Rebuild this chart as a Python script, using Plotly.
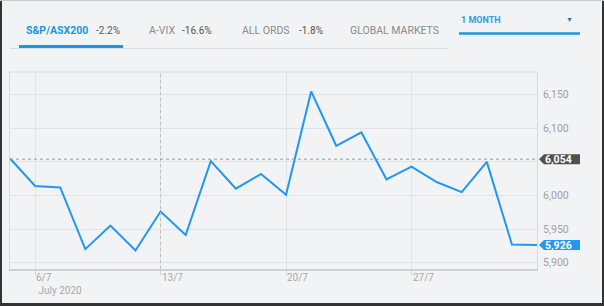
import plotly.graph_objects as go

# ---- data ----
dates = ["3/7", "6/7", "7/7", "8/7", "9/7", "10/7", "13/7", "14/7", "15/7", "16/7", "17/7",
         "20/7", "21/7", "22/7", "23/7", "24/7", "27/7", "28/7", "29/7", "30/7", "31/7", "3/8"]
values = [6055, 6014, 6012, 5920, 5955, 5918, 5976, 5941, 6051, 6010, 6032,
          6001, 6155, 6074, 6094, 6024, 6043, 6020, 6005, 6050, 5927, 5926]
x_tick_dates = ["6/7", "13/7", "20/7", "27/7"]
y_ticks = [5900, 5950, 6000, 6050, 6100, 6150]
y_tick_text = ["5,900", "5,950", "6,000", "", "6,100", "6,150"]
ref_value = 6054
last_value = 5926
tabs = [("S&P/ASX200", "-2.2%"), ("A-VIX", "-16.6%"), ("ALL ORDS", "-1.8%"), ("GLOBAL MARKETS", "")]
period = "1 MONTH"
month_label = "July 2020"

# ---- geometry ----
FW, FH = 604, 306
L, R, T, B = 10, 67, 72, 37
PW, PH = FW - L - R, FH - T - B


def px(xp):
    return (xp - L) / PW


def py(yp):
    return (FH - B - yp) / PH


BG = "#f2f3f5"
BLUE = "#2196f3"
FONT = "Roboto"
idx = list(range(len(dates)))

fig = go.Figure()
fig.add_trace(go.Scatter(x=idx, y=values, mode="lines",
                         line=dict(color=BLUE, width=2), hoverinfo="skip"))

tick_idx = [dates.index(d) for d in x_tick_dates]

fig.update_layout(
    width=FW, height=FH,
    margin=dict(l=L, r=R, t=T, b=B),
    paper_bgcolor=BG, plot_bgcolor=BG,
    showlegend=False,
    font=dict(family=FONT, color="#999999", size=11),
    xaxis=dict(range=[0, len(dates) - 1], tickvals=tick_idx, showticklabels=False,
               showgrid=True, gridcolor="#e2e3e5", gridwidth=1,
               ticks="outside", ticklen=4, tickcolor="#cfd0d2",
               showline=True, linecolor="#cfd0d2", linewidth=2, mirror=False,
               zeroline=False, fixedrange=True),
    yaxis=dict(range=[5890.4, 6183.9], side="right", tickvals=y_ticks, ticktext=y_tick_text,
               showgrid=True, gridcolor="#e2e3e5", gridwidth=1,
               ticks="outside", ticklen=3, tickcolor="rgba(0,0,0,0)",
               showline=True, linecolor="#d8d9db", linewidth=1, mirror=True,
               zeroline=False, tickfont=dict(size=10.5, color="#a0a0a0"), fixedrange=True),
)

shapes = []
# top frame line
shapes.append(dict(type="line", xref="paper", yref="paper", x0=0, x1=1, y0=1, y1=1,
                   line=dict(color="#d8d9db", width=1)))
# dotted crosshair at 13/7
shapes.append(dict(type="line", xref="x", yref="paper", x0=dates.index("13/7"), x1=dates.index("13/7"),
                   y0=0, y1=1, line=dict(color="#bdbdbd", width=1, dash="dot")))
# reference dotted line
shapes.append(dict(type="line", xref="paper", yref="y", x0=0, x1=1, y0=ref_value, y1=ref_value,
                   line=dict(color="#9a9a9a", width=1, dash="dot")))
# badges
for val, col in [(ref_value, "#505050"), (last_value, BLUE)]:
    shapes.append(dict(type="path", xref="paper", yref="y", xsizemode="pixel", ysizemode="pixel",
                       xanchor=1, yanchor=val,
                       path="M 2,0 L 7,5 L 43,5 L 43,-5 L 7,-5 Z",
                       fillcolor=col, line=dict(width=0)))

# header lines
shapes.append(dict(type="line", xref="paper", yref="paper", x0=px(10), x1=px(449), y0=py(48.5), y1=py(48.5),
                   line=dict(color="#dcdddf", width=1)))
shapes.append(dict(type="line", xref="paper", yref="paper", x0=px(19), x1=px(123), y0=py(46.5), y1=py(46.5),
                   line=dict(color="#1a97e0", width=3)))
shapes.append(dict(type="line", xref="paper", yref="paper", x0=px(459), x1=px(580), y0=py(33.5), y1=py(33.5),
                   line=dict(color="#1a97e0", width=2.5)))
# outer frame
shapes.append(dict(type="rect", xref="paper", yref="paper", x0=px(0), x1=px(2), y0=py(306), y1=py(0),
                   fillcolor="#333333", line=dict(width=0)))
shapes.append(dict(type="rect", xref="paper", yref="paper", x0=px(602), x1=px(604), y0=py(306), y1=py(0),
                   fillcolor="#333333", line=dict(width=0)))
shapes.append(dict(type="rect", xref="paper", yref="paper", x0=px(0), x1=px(604), y0=py(306), y1=py(303),
                   fillcolor="#333333", line=dict(width=0)))
shapes.append(dict(type="rect", xref="paper", yref="paper", x0=px(0), x1=px(604), y0=py(1), y1=py(0),
                   fillcolor="#c8c8c8", line=dict(width=0)))
fig.update_layout(shapes=shapes)

ann = []
# badge texts
for val in [ref_value, last_value]:
    ann.append(dict(x=1, y=val, xref="paper", yref="y", text=f"<b>{val:,}</b>", showarrow=False,
                    xanchor="left", yanchor="middle", xshift=6,
                    font=dict(family=FONT, size=10.5, color="white")))
# x labels (first one carries the month on a second line)
for n, (d, i) in enumerate(zip(x_tick_dates, tick_idx)):
    txt = d + "<br>\u00a0" + month_label if n == 0 else d
    ann.append(dict(x=i, y=py(270), xref="x", yref="paper", text=txt, showarrow=False,
                    xanchor="left", yanchor="top", xshift=-1, align="left",
                    font=dict(family=FONT, size=10, color="#a8a8a8")))
# header tabs
tab_x = [(24, 94), (147, 180), (240, 297), (348, None)]
for (name, chg), (xn, xc) in zip(tabs, tab_x):
    active = name == "S&P/ASX200"
    ann.append(dict(x=px(xn), y=py(31), xref="paper", yref="paper", text=(f"<b>{name}</b>" if active else name),
                    showarrow=False, xanchor="left", yanchor="middle",
                    font=dict(family=FONT, size=10.5, color=("#1a97e0" if active else "#8a8a8a"))))
    if chg:
        ann.append(dict(x=px(xc), y=py(31), xref="paper", yref="paper", text=chg, showarrow=False,
                        xanchor="left", yanchor="middle",
                        font=dict(family=FONT, size=10, color="#555555")))
ann.append(dict(x=px(459), y=py(20), xref="paper", yref="paper", text=f"<b>{period}</b>", showarrow=False,
                xanchor="left", yanchor="middle", font=dict(family=FONT, size=9, color="#2a9ee0")))
ann.append(dict(x=px(569), y=py(20), xref="paper", yref="paper", text="▼", showarrow=False,
                xanchor="center", yanchor="middle", font=dict(family=FONT, size=7, color="#1a7fc0")))
fig.update_layout(annotations=ann)

fig.write_html("out.html", config={"displayModeBar": False})
